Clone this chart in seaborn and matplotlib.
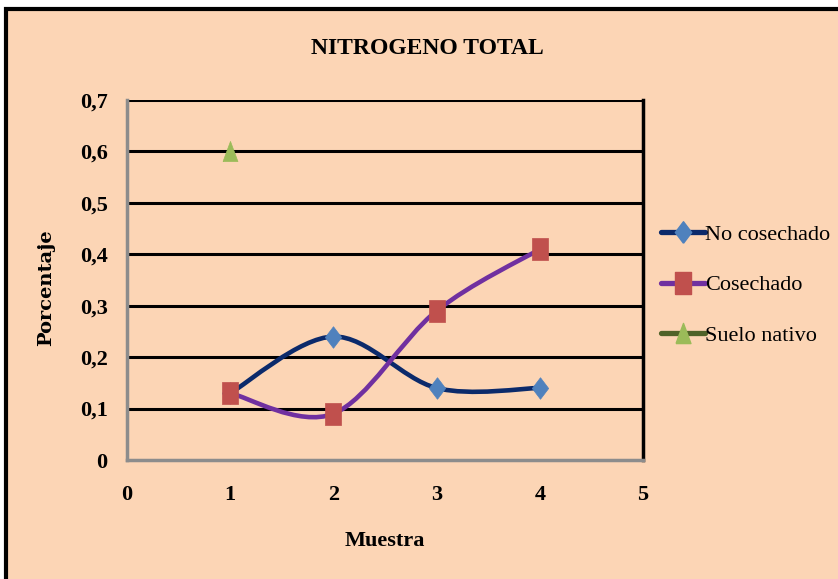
import numpy as np
import pandas as pd
import matplotlib
matplotlib.use("Agg")
import matplotlib.pyplot as plt
from matplotlib.path import Path
from matplotlib.patches import PathPatch, Rectangle
from matplotlib.lines import Line2D
import seaborn as sns

# Data
muestra = [1, 2, 3, 4]
no_cosechado = [0.13, 0.24, 0.14, 0.14]
cosechado = [0.13, 0.09, 0.29, 0.41]
suelo_nativo_x = [1]
suelo_nativo = [0.60]
series_names = ["No cosechado", "Cosechado", "Suelo nativo"]
x_ticks = [0, 1, 2, 3, 4, 5]
y_ticks = [0, 0.1, 0.2, 0.3, 0.4, 0.5, 0.6, 0.7]

BG = "#FCD5B5"
line_colors = {"No cosechado": "#0B2A6B", "Cosechado": "#7030A0", "Suelo nativo": "#4F6228"}
marker_colors = {"No cosechado": "#4F81BD", "Cosechado": "#C0504D", "Suelo nativo": "#9BBB59"}
# Slightly tall marker shapes
markers = {
    "No cosechado": [(0, -0.5), (0.38, 0), (0, 0.5), (-0.38, 0), (0, -0.5)],
    "Cosechado": [(-0.38, -0.5), (0.38, -0.5), (0.38, 0.5), (-0.38, 0.5), (-0.38, -0.5)],
    "Suelo nativo": [(-0.37, -0.5), (0.37, -0.5), (0, 0.5), (-0.37, -0.5)],
}
marker_sizes = {"No cosechado": 15.5, "Cosechado": 15.5, "Suelo nativo": 14.5}

sns.set_theme(style="white")
serif = ["Liberation Serif", "DejaVu Serif"]
plt.rcParams["font.family"] = serif
plt.rcParams["text.color"] = "black"
plt.rcParams["axes.labelcolor"] = "black"
plt.rcParams["xtick.color"] = "black"
plt.rcParams["ytick.color"] = "black"

fig = plt.figure(figsize=(8.38, 5.79), dpi=100)
fig.patch.set_facecolor("white")
# Chart area background with border on top and left
fig.patches.append(Rectangle((6 / 838, -0.02), 1.1, (579 - 9) / 579 + 0.02,
                             transform=fig.transFigure, facecolor=BG,
                             edgecolor="black", linewidth=3, zorder=-5))

ax = fig.add_axes([127 / 838, 1 - 460 / 579, (643 - 127) / 838, (460 - 100) / 579])
ax.set_zorder(2)
ax.patch.set_alpha(0)

ax.set_xlim(0, 5)
ax.set_ylim(0, 0.7)
ax.set_xticks(x_ticks)
ax.set_yticks(y_ticks)
ax.set_xticklabels([str(v) for v in x_ticks])
ax.set_yticklabels(["0" if v == 0 else f"{v:.1f}".replace(".", ",") for v in y_ticks])

for v in y_ticks[1:]:
    ax.axhline(v, color="black", linewidth=2.2, zorder=1)

for side in ["left", "bottom"]:
    ax.spines[side].set_color("#8C8C8C")
    ax.spines[side].set_linewidth(2.5)
ax.spines["right"].set_color("black")
ax.spines["right"].set_linewidth(2.5)
ax.spines["top"].set_visible(False)

ax.tick_params(axis="both", length=0, labelsize=16)
ax.tick_params(axis="y", pad=14)
ax.tick_params(axis="x", pad=18)
for lbl in ax.get_xticklabels() + ax.get_yticklabels():
    lbl.set_fontweight("bold")


def smooth_path(xs, ys):
    """Bezier path through the points, tangents taken from neighbours."""
    pts = np.column_stack([xs, ys]).astype(float)
    n = len(pts)
    verts = [pts[0]]
    codes = [Path.MOVETO]
    for i in range(n - 1):
        p0 = pts[i - 1] if i > 0 else pts[i]
        p1 = pts[i]
        p2 = pts[i + 1]
        p3 = pts[i + 2] if i + 2 < n else pts[i + 1]
        c1 = p1 + (p2 - p0) / 6.0
        c2 = p2 - (p3 - p1) / 6.0
        verts += [c1, c2, p2]
        codes += [Path.CURVE4] * 3
    return Path(verts, codes)


for name, ys in [("No cosechado", no_cosechado), ("Cosechado", cosechado)]:
    ax.add_patch(PathPatch(smooth_path(muestra, ys), facecolor="none",
                           edgecolor=line_colors[name], linewidth=3.3,
                           capstyle="round", zorder=3))

df = pd.DataFrame({
    "Muestra": muestra + muestra + suelo_nativo_x,
    "Porcentaje": no_cosechado + cosechado + suelo_nativo,
    "Serie": ["No cosechado"] * 4 + ["Cosechado"] * 4 + ["Suelo nativo"],
})
for name in series_names:
    sub = df[df["Serie"] == name]
    sns.scatterplot(data=sub, x="Muestra", y="Porcentaje", ax=ax,
                    marker=markers[name], s=marker_sizes[name] ** 2,
                    color=marker_colors[name], edgecolor=marker_colors[name],
                    linewidth=0.5, zorder=4, legend=False)

ax.set_xlabel("Muestra", fontsize=16, fontweight="bold", labelpad=19)
ax.set_ylabel("Porcentaje", fontsize=14, fontweight="bold",
              family=["DejaVu Serif"])
ax.yaxis.set_label_coords(-72 / 516, 0.48)
fig.text(427 / 838, 1 - 48 / 579, "NITROGENO TOTAL", ha="center", va="center",
         fontsize=17, fontweight="bold")

handles = [Line2D([0], [0], color=line_colors[n], linewidth=3.8, marker=markers[n],
                  markersize=marker_sizes[n], markerfacecolor=marker_colors[n],
                  markeredgecolor=marker_colors[n]) for n in series_names]
fig.legend(handles, series_names, loc="center left",
           bbox_to_anchor=(652 / 838, 1 - 285 / 579), frameon=False,
           fontsize=16, handlelength=2.0, handletextpad=0.0, labelspacing=1.35,
           borderaxespad=0)

fig.savefig("out.png", dpi=100, facecolor=fig.get_facecolor())
